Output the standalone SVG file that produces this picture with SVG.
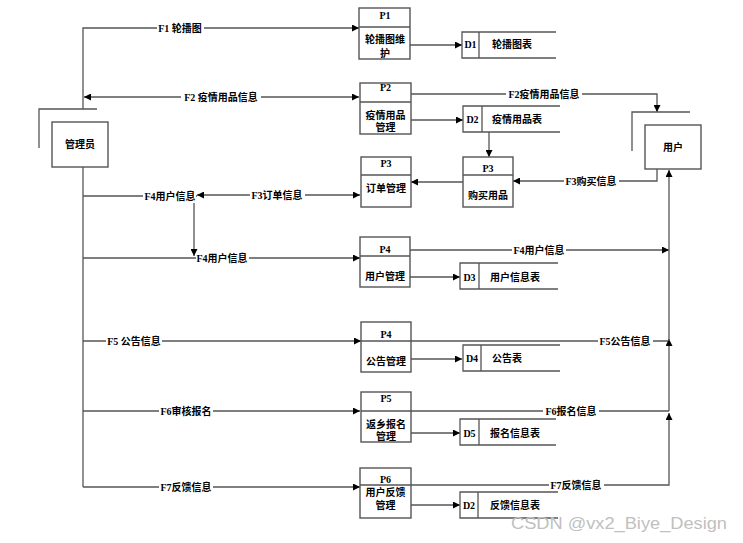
<svg xmlns="http://www.w3.org/2000/svg" width="743" height="543" viewBox="0 0 743 543">
<style>
text{font-family:"Liberation Serif","Noto Sans CJK SC",serif;font-size:10px;font-weight:bold;fill:#000}
.c{text-anchor:middle}
.box{fill:#fff;stroke:#555;stroke-width:1.4}
.ln{fill:none;stroke:#555;stroke-width:1.3}
.bg{fill:#fff}
.wm{font-family:"Liberation Sans","DejaVu Sans",sans-serif;font-size:16px;font-weight:normal;fill:#c0c0c0}
</style>
<defs>
<marker id="a" viewBox="0 0 10 10" refX="10" refY="5" markerWidth="9" markerHeight="7" markerUnits="userSpaceOnUse" orient="auto-start-reverse">
<path d="M0,0 L10,5 L0,10 z" fill="#000"/>
</marker>
</defs>
<rect width="743" height="543" fill="#fff"/>

<g id="connectors">
<path class="ln" d="M83,109 V28 H359" marker-end="url(#a)"/>
<path class="ln" d="M84,97 H359" marker-start="url(#a)" marker-end="url(#a)"/>
<path class="ln" d="M410,45 H462" marker-end="url(#a)"/>
<path class="ln" d="M411,120 H463" marker-end="url(#a)"/>
<path class="ln" d="M411,94 H657 V112" marker-end="url(#a)"/>
<path class="ln" d="M489,132 V157" marker-end="url(#a)"/>
<path class="ln" d="M657,169 V181 H513" marker-end="url(#a)"/>
<path class="ln" d="M463,182 H411" marker-end="url(#a)"/>
<path class="ln" d="M197,195 H360" marker-start="url(#a)" marker-end="url(#a)"/>
<path class="ln" d="M83,196 H197"/>
<path class="ln" d="M194,203 V256" marker-end="url(#a)"/>
<path class="ln" d="M83,258 H360" marker-end="url(#a)"/>
<path class="ln" d="M410,277 H460" marker-end="url(#a)"/>
<path class="ln" d="M410,250 H669" marker-end="url(#a)"/>
<path class="ln" d="M83,341 H361" marker-end="url(#a)"/>
<path class="ln" d="M411,341 H669"/>
<path class="ln" d="M411,359 H462" marker-end="url(#a)"/>
<path class="ln" d="M83,411 H360" marker-end="url(#a)"/>
<path class="ln" d="M411,411 H669"/>
<path class="ln" d="M411,433 H460" marker-end="url(#a)"/>
<path class="ln" d="M83,487 H360" marker-end="url(#a)"/>
<path class="ln" d="M411,485 H669 V413" marker-end="url(#a)"/>
<path class="ln" d="M669,411 V339" marker-end="url(#a)"/>
<path class="ln" d="M669,341 V170" marker-end="url(#a)"/>
<path class="ln" d="M411,505 H460" marker-end="url(#a)"/>
<path class="ln" d="M83,167 V487"/>

<rect class="bg" x="157" y="22" width="47" height="12"/>
<text class="c" x="180" y="32">F1 轮播图</text>
<rect class="bg" x="181" y="91" width="80" height="12"/>
<text class="c" x="221" y="101">F2 疫情用品信息</text>
<rect class="bg" x="506" y="88" width="76" height="12"/>
<text class="c" x="544" y="98">F2疫情用品信息</text>
<rect class="bg" x="564" y="175" width="55" height="12"/>
<text class="c" x="591" y="185">F3购买信息</text>
<rect class="bg" x="143" y="190" width="53" height="12"/>
<text class="c" x="170" y="200">F4用户信息</text>
<rect class="bg" x="250" y="189" width="55" height="12"/>
<text class="c" x="277" y="199">F3订单信息</text>
<rect class="bg" x="196" y="252" width="53" height="12"/>
<text class="c" x="222" y="262">F4用户信息</text>
<rect class="bg" x="512" y="244" width="54" height="12"/>
<text class="c" x="539" y="254">F4用户信息</text>
<rect class="bg" x="106" y="335" width="56" height="12"/>
<text class="c" x="134" y="345">F5 公告信息</text>
<rect class="bg" x="598" y="335" width="55" height="12"/>
<text class="c" x="625" y="345">F5公告信息</text>
<rect class="bg" x="159" y="405" width="54" height="12"/>
<text class="c" x="186" y="415">F6审核报名</text>
<rect class="bg" x="543" y="405" width="56" height="12"/>
<text class="c" x="571" y="415">F6报名信息</text>
<rect class="bg" x="159" y="481" width="54" height="12"/>
<text class="c" x="186" y="491">F7反馈信息</text>
<rect class="bg" x="549" y="479" width="55" height="12"/>
<text class="c" x="576" y="489">F7反馈信息</text>
</g>

<g id="admin">
<path class="ln" d="M39,148 V109 H97"/>
<rect class="box" x="52" y="122" width="56" height="45"/>
<text class="c" x="80" y="148">管理员</text>
</g>
<g id="user">
<path class="ln" d="M632,151 V112 H690"/>
<rect class="box" x="645" y="125" width="56" height="44"/>
<text class="c" x="673" y="151">用户</text>
</g>

<g id="p1">
<rect class="box" x="359" y="8" width="51" height="51"/>
<line class="ln" x1="359" y1="27" x2="410" y2="27"/>
<text class="c" x="385" y="19">P1</text>
<text class="c" x="385" y="43">轮播图维</text>
<text class="c" x="385" y="57">护</text>
</g>
<g id="d1">
<path class="ln" d="M556,32 H462 V58 H556 M479,32 V58"/>
<text class="c" x="470.5" y="48">D1</text>
<text x="492" y="48">轮播图表</text>
</g>
<g id="p2">
<rect class="box" x="360" y="83" width="51" height="51"/>
<line class="ln" x1="360" y1="102" x2="411" y2="102"/>
<text class="c" x="385.5" y="91">P2</text>
<text class="c" x="385.5" y="119">疫情用品</text>
<text class="c" x="385.5" y="131">管理</text>
</g>
<g id="d2">
<path class="ln" d="M560,106 H463 V132 H560 M482,106 V132"/>
<text class="c" x="472.5" y="123">D2</text>
<text x="492" y="123">疫情用品表</text>
</g>
<g id="p3order">
<rect class="box" x="361" y="157" width="50" height="50"/>
<line class="ln" x1="361" y1="175" x2="411" y2="175"/>
<text class="c" x="386" y="167">P3</text>
<text class="c" x="386" y="192">订单管理</text>
</g>
<g id="p3buy">
<rect class="box" x="463" y="157" width="50" height="50"/>
<line class="ln" x1="463" y1="175" x2="513" y2="175"/>
<text class="c" x="488" y="172">P3</text>
<text class="c" x="488" y="199">购买用品</text>
</g>
<g id="p4user">
<rect class="box" x="360" y="237" width="50" height="50"/>
<line class="ln" x1="360" y1="256" x2="410" y2="256"/>
<text class="c" x="385" y="253">P4</text>
<text class="c" x="385" y="280">用户管理</text>
</g>
<g id="d3">
<path class="ln" d="M558,263 H460 V289 H558 M479,263 V289"/>
<text class="c" x="469.5" y="281">D3</text>
<text x="490" y="281">用户信息表</text>
</g>
<g id="p4notice">
<rect class="box" x="361" y="322" width="50" height="50"/>
<line class="ln" x1="361" y1="341" x2="411" y2="341"/>
<text class="c" x="386" y="338">P4</text>
<text class="c" x="386" y="365">公告管理</text>
</g>
<g id="d4">
<path class="ln" d="M560,345 H463 V371 H560 M481,345 V371"/>
<text class="c" x="472" y="362">D4</text>
<text x="492" y="362">公告表</text>
</g>
<g id="p5">
<rect class="box" x="361" y="392" width="50" height="50"/>
<line class="ln" x1="361" y1="411" x2="411" y2="411"/>
<text class="c" x="386" y="402">P5</text>
<text class="c" x="386" y="428">返乡报名</text>
<text class="c" x="386" y="440">管理</text>
</g>
<g id="d5">
<path class="ln" d="M556,419 H460 V445 H556 M479,419 V445"/>
<text class="c" x="469.5" y="437">D5</text>
<text x="490" y="437">报名信息表</text>
</g>
<g id="p6">
<rect class="box" x="360" y="468" width="51" height="50"/>
<line class="ln" x1="360" y1="485" x2="411" y2="485"/>
<text class="c" x="385.5" y="483">P6</text>
<text class="c" x="385.5" y="496">用户反馈</text>
<text class="c" x="385.5" y="509">管理</text>
</g>
<g id="d2feedback">
<path class="ln" d="M558,492 H460 V518 H558 M478,492 V518"/>
<text class="c" x="469" y="509">D2</text>
<text x="490" y="509">反馈信息表</text>
</g>

<text class="wm" x="511" y="529" textLength="216" lengthAdjust="spacingAndGlyphs">CSDN @vx2_Biye_Design</text>
</svg>
